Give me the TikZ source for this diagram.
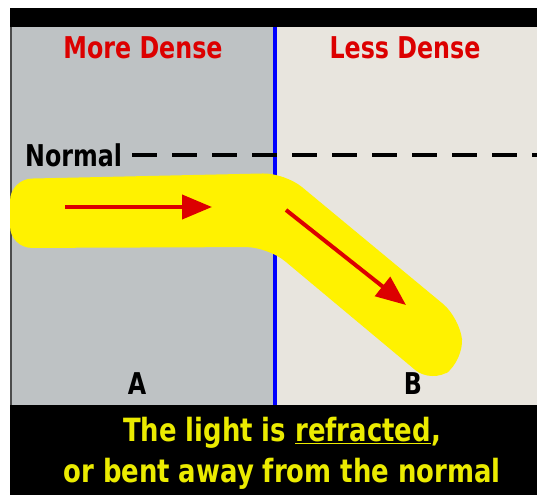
\documentclass[tikz,border=0pt]{standalone}
\usepackage{fontspec}
\setmainfont{DejaVu Sans Condensed}[FakeStretch=0.88]
\newfontfamily\capfont{DejaVu Sans Condensed}[FakeStretch=0.9]
\usetikzlibrary{arrows.meta}
\definecolor{densegray}{RGB}{190,194,196}
\definecolor{lessbeige}{RGB}{232,229,222}
\definecolor{textred}{RGB}{220,0,0}
\definecolor{capyellow}{RGB}{235,235,0}

\begin{document}
\begin{tikzpicture}[x=1pt,y=-1pt,>={Triangle[length=30pt,width=24pt]},
 lbl/.style={font=\bfseries\fontsize{30}{30}\selectfont,inner sep=0pt},
 ray/.style={->,draw=textred,line width=4pt}]
 \useasboundingbox (0,0) rectangle (537,495);
 % panels and frame
 \fill[densegray] (10,27) rectangle (275,405);
 \fill[lessbeige] (275,27) rectangle (537,405);
 \fill[black] (10,8) rectangle (537,27);
 \fill[black] (10,405) rectangle (537,495);
 \fill[black!70] (10,27) rectangle (12,405);
 \draw[blue,line width=4pt] (275,27) -- (275,405);
 % normal
 \node[lbl,anchor=west] (normal) at (25,155) {Normal};
 \coordinate (nend) at (537,155);
 \draw[line width=4.5pt,dash pattern=on 25pt off 15pt] (normal.east)++(10,0) -- (nend);
 % beam
 \fill[yellow,rounded corners=22pt] (10,179) -- (285,173) -- (460,318) -- (464,360)
  -- (432,384) -- (268,247) -- (10,248) -- cycle;
 \coordinate (in1) at (65,207);
 \coordinate (in2) at (212,207);
 \coordinate (out1) at (286,210);
 \coordinate (out2) at (406,305);
 \draw[ray] (in1)--(in2);
 \draw[ray] (out1)--(out2);
 % labels
 \node[lbl,textred] (more) at (143,48) {More Dense};
 \node[lbl,textred] (less) at (405,48) {Less Dense};
 \node[lbl] (a) at (137,384) {A};
 \node[lbl] (b) at (413,384) {B};
 \node[lbl,capyellow,align=center,font=\capfont\bfseries\fontsize{32}{41}\selectfont] (cap) at (282,453)
  {The light is \underline{refracted},\\ or bent away from the normal};
\end{tikzpicture}
\end{document}
